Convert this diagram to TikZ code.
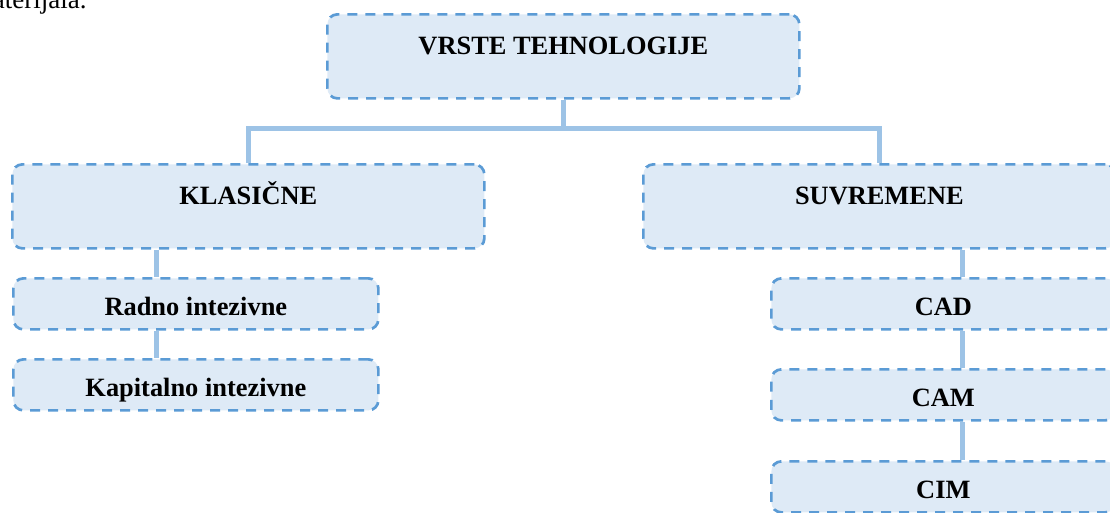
\documentclass[tikz,border=0pt]{standalone}
\usepackage{fontspec}
\setmainfont{Liberation Serif}
\usetikzlibrary{positioning}
\definecolor{boxfill}{HTML}{DEEAF6}
\definecolor{boxline}{HTML}{5B9BD5}
\definecolor{connline}{HTML}{9DC3E6}

\begin{document}
\begin{tikzpicture}[x=1pt,y=-1pt,
    box/.style={draw=boxline, fill=boxfill, line width=2.7pt, dash pattern=on 10pt off 8pt,
        rounded corners=10pt, inner sep=0pt, anchor=north west,
        font=\fontsize{26.4}{30}\selectfont\bfseries},
    bigbox/.style={box, minimum width=472pt, text height=40pt, text depth=44pt},
    smallbox/.style={box, minimum width=365pt, text height=37pt, text depth=14pt},
    conn/.style={draw=connline, line width=5pt}]
            % frame of the page
            \useasboundingbox (0,0) rectangle (1110,512);
            \clip (0,0) rectangle (1110,512);

            % end of the text above
            \node[anchor=base east, font=\fontsize{27}{30}\selectfont] (prev) at (90,8) {materijala.};

            % top and second level
            \node[bigbox] (vrste) at (326,13) {VRSTE TEHNOLOGIJE};
            \node[bigbox] (klasicne) at (11,163) {KLASIČNE};
            \node[bigbox] (suvremene) at (642,163) {SUVREMENE};

            % left branch
            \node[smallbox] (radno) at (12,277) {Radno intezivne};
            \node[smallbox] (kapital) at (12,358) {Kapitalno intezivne};

            % right branch
            \node[smallbox, minimum width=344pt] (cad) at (770,277) {CAD};
            \node[smallbox, minimum width=344pt] (cam) at (770,368) {CAM};
            \node[smallbox, minimum width=344pt] (cim) at (770,460) {CIM};

            % connectors
            \coordinate (bar) at (0,128.5);
            \coordinate (kx) at (156,0);
            \coordinate (sx) at (962,0);
            \draw[conn] (vrste.south) -- (vrste.south |- bar);
            \draw[conn] (klasicne.north) |- (suvremene.north |- bar) -- (suvremene.north);
            \draw[conn] (klasicne.south -| kx) -- (radno.north -| kx);
            \draw[conn] (radno.south -| kx) -- (kapital.north -| kx);
            \draw[conn] (suvremene.south -| sx) -- (cad.north -| sx);
            \draw[conn] (cad.south -| sx) -- (cam.north -| sx);
            \draw[conn] (cam.south -| sx) -- (cim.north -| sx);
\end{tikzpicture}
\end{document}
